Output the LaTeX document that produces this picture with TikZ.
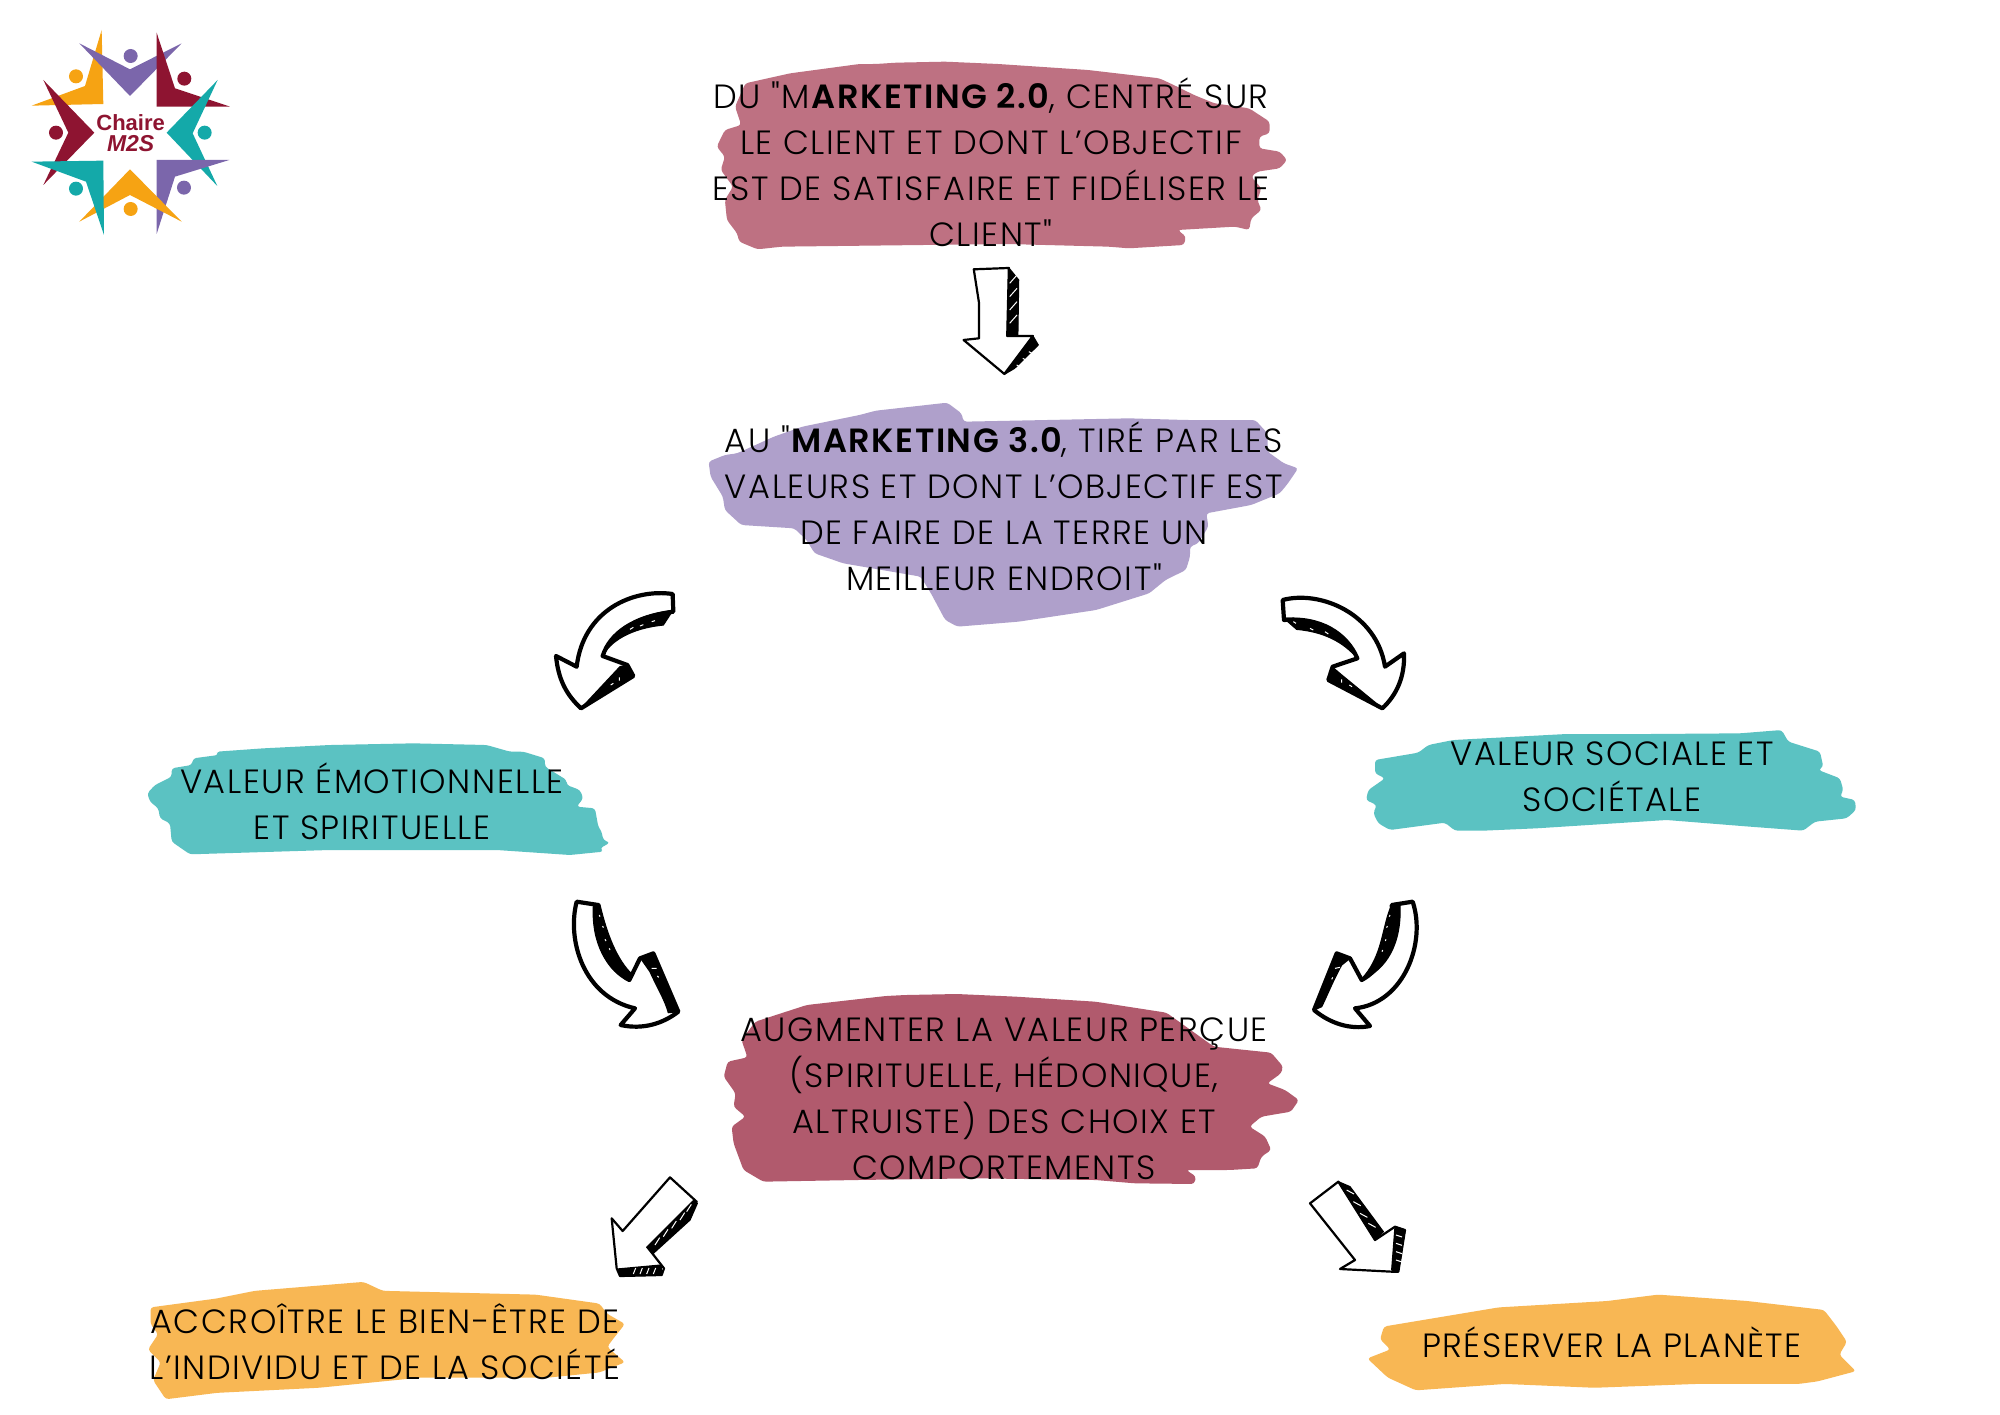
\documentclass[tikz,border=0pt]{standalone}
\usepackage{fontspec}
\setmainfont{Poppins Light}[Ligatures=TeXOff,LetterSpace=4.5,BoldFont={Poppins SemiBold}]
\newfontfamily\logofont{Liberation Sans}
\definecolor{cPink}{HTML}{BE7182}
\definecolor{cLilac}{HTML}{AFA0CB}
\definecolor{cTeal}{HTML}{5BC2C2}
\definecolor{cRose}{HTML}{B15A6D}
\definecolor{cSand}{HTML}{F8B754}
\definecolor{lOrange}{HTML}{F6A313}
\definecolor{lPurple}{HTML}{7B66AB}
\definecolor{lCrimson}{HTML}{8E1431}
\definecolor{lTeal}{HTML}{14A9A9}
\tikzset{
  label/.style={inner sep=0pt,align=center,text=black,font=\fontsize{16.8}{23}\selectfont},
  logotext/.style={inner sep=0pt,text=lCrimson},
  brush/.style={rounded corners=1.5pt},
  thick arrow/.style={draw=black,fill=white,line width=2.1pt,line join=round,line cap=round},
  thin arrow/.style={draw=black,fill=white,line width=1.1pt,line join=round,line cap=round},
  shade/.style={fill=black,draw=black,line width=.6pt,line join=round},
  hatch/.style={draw=white,line width=.5pt},
}
\begin{document}
\begin{tikzpicture}[x=0.5pt,y=-0.5pt]
\useasboundingbox (0,0) rectangle (2000,1414);
\fill[white] (0,0) rectangle (2000,1414);
% brush strokes
\begin{scope}[shift={(680,40)},xscale=0.408,yscale=0.3333]
\fill[cPink,brush] (135,200)--(160,130)--(270,100)--(440,72)--(480,72)--(530,68)--(650,65)--(780,72)--(1000,90)--(1175,115)--(1210,135)--(1260,165)--(1310,190)--(1395,205)--(1420,225)--(1445,245)--(1445,280)--(1420,290)--(1420,325)--(1470,335)--(1488,360)--(1470,385)--(1415,395)--(1400,410)--(1425,445)--(1415,480)--(1425,510)--(1400,535)--(1395,570)--(1360,560)--(1220,570)--(1240,590)--(1235,615)--(1100,625)--(1050,620)--(800,612)--(600,615)--(250,620)--(190,628)--(145,605)--(140,580)--(115,540)--(110,480)--(130,440)--(100,390)--(110,350)--(90,320)--(110,270)--(150,255)--cycle;
\end{scope}
\begin{scope}[shift={(680,390)},xscale=0.408,yscale=0.3333]
\fill[cLilac,brush] (70,215)--(110,195)--(140,190)--(230,140)--(300,110)--(440,75)--(480,62)--(655,38)--(690,70)--(695,95)--(900,90)--(1100,85)--(1240,90)--(1410,90)--(1440,130)--(1440,185)--(1480,220)--(1515,235)--(1490,280)--(1470,310)--(1400,345)--(1290,370)--(1295,410)--(1270,460)--(1250,470)--(1250,500)--(1240,540)--(1190,570)--(1150,610)--(1020,660)--(830,695)--(680,710)--(650,690)--(615,610)--(590,560)--(400,520)--(330,490)--(310,450)--(280,415)--(150,405)--(110,360)--(105,320)--(75,260)--cycle;
\end{scope}
\begin{scope}[shift={(130,720)},scale=0.3333]
\fill[cTeal,brush] (52,220)--(75,195)--(125,170)--(125,145)--(185,135)--(190,115)--(265,105)--(260,95)--(400,85)--(600,75)--(850,70)--(1070,75)--(1140,95)--(1180,95)--(1245,115)--(1245,140)--(1310,180)--(1310,195)--(1350,210)--(1360,235)--(1340,260)--(1395,265)--(1405,320)--(1415,335)--(1420,360)--(1440,368)--(1410,385)--(1420,395)--(1320,405)--(1100,390)--(800,390)--(600,390)--(180,403)--(125,365)--(120,310)--(90,295)--(85,265)--(60,245)--cycle;
\end{scope}
\begin{scope}[shift={(1350,710)},scale=0.3333]
\fill[cTeal,brush] (75,150)--(205,128)--(235,105)--(310,90)--(650,72)--(900,72)--(1170,70)--(1295,60)--(1315,95)--(1410,125)--(1420,170)--(1405,180)--(1470,205)--(1480,240)--(1470,260)--(1515,270)--(1518,300)--(1490,325)--(1395,335)--(1360,362)--(1200,350)--(950,330)--(560,355)--(400,362)--(315,362)--(285,338)--(120,360)--(85,340)--(70,310)--(80,285)--(48,270)--(55,240)--(105,205)--(75,190)--cycle;
\end{scope}
\begin{scope}[shift={(700,980)},xscale=0.3953,yscale=0.3333]
\fill[cRose,brush] (105,180)--(140,125)--(270,75)--(470,48)--(520,45)--(650,42)--(800,50)--(1000,65)--(1180,98)--(1300,200)--(1445,218)--(1475,260)--(1470,280)--(1435,310)--(1480,330)--(1515,360)--(1495,395)--(1420,410)--(1390,440)--(1430,470)--(1445,510)--(1420,530)--(1410,565)--(1340,570)--(1230,570)--(1255,590)--(1250,612)--(1100,610)--(1000,600)--(700,595)--(400,600)--(160,605)--(110,570)--(85,490)--(80,440)--(115,410)--(85,380)--(90,340)--(60,290)--(70,245)--(120,232)--cycle;
\end{scope}
\begin{scope}[scale=1.2755]
\fill[cSand,brush] (118,1025)--(170,1018)--(200,1012)--(285,1005)--(300,1012)--(420,1015)--(470,1022)--(476,1030)--(490,1038)--(482,1048)--(476,1056)--(490,1068)--(470,1076)--(430,1080)--(330,1080)--(250,1088)--(170,1092)--(130,1097)--(120,1082)--(126,1068)--(116,1058)--(124,1046)--(118,1038)--cycle;
\fill[cSand,brush] (1085,1040)--(1115,1035)--(1175,1025)--(1260,1020)--(1300,1015)--(1370,1020)--(1430,1027)--(1440,1040)--(1448,1052)--(1442,1062)--(1455,1075)--(1425,1083)--(1410,1085)--(1330,1085)--(1250,1088)--(1180,1085)--(1110,1090)--(1088,1080)--(1072,1065)--(1090,1058)--(1082,1050)--cycle;
\end{scope}
% texts
\node[label] (top) at (991,162) {DU "M\textbf{ARKETING 2.0}, CENTRÉ SUR\\LE CLIENT ET DONT L’OBJECTIF\\EST DE SATISFAIRE ET FIDÉLISER LE\\CLIENT"};
\node[label] (mid) at (1004,506) {AU "\textbf{MARKETING 3.0}, TIRÉ PAR LES\\VALEURS ET DONT L’OBJECTIF EST\\DE FAIRE DE LA TERRE UN\\MEILLEUR ENDROIT"};
\node[label] (emo) at (372,801) {VALEUR ÉMOTIONNELLE\\ET SPIRITUELLE};
\node[label] (soc) at (1612,777) {VALEUR SOCIALE ET\\SOCIÉTALE};
\node[label] (aug) at (1004,1099) {AUGMENTER LA VALEUR PERÇUE\\(SPIRITUELLE, HÉDONIQUE,\\ALTRUISTE) DES CHOIX ET\\COMPORTEMENTS};
\node[label] (ind) at (385,1342) {ACCROÎTRE LE BIEN-ÊTRE DE\\L’INDIVIDU ET DE LA SOCIÉTÉ};
\node[label] (pla) at (1612,1342) {PRÉSERVER LA PLANÈTE};
% down arrow
\begin{scope}[shift={(680,40)},xscale=0.408,yscale=0.3333]
\draw[thin arrow] (720,688)--(806,684)--(802,888)--(865,888)--(795,1002)--(695,900)--(733,895)--(733,790)--cycle;
\fill[shade] (806,684)--(830,720)--(828,885)--(802,885)--cycle;
\fill[shade] (865,888)--(878,915)--(820,985)--(795,1003)--cycle;
\foreach \a/\b in {808/730,808/770,808/810,808/850}{\draw[hatch] (\a,\b)--(\a+18,\b-25);}
\foreach \a/\b in {825/975,840/955,855/935}{\draw[hatch] (\a,\b)--(\a+12,\b+8);}
\end{scope}
% curved arrow, top left
\begin{scope}[shift={(520,570)},scale=0.3333]
\draw[thick arrow] (458,72) .. controls (340,55) and (190,120) .. (170,290) -- (108,258) .. controls (115,330) and (140,375) .. (183,415) -- (340,318) -- (322,285) -- (248,258) .. controls (270,190) and (340,140) .. (460,125) -- cycle;
\fill[shade] (458,122) .. controls (340,135) and (270,190) .. (248,258) .. controls (270,215) and (330,175) .. (430,165) -- cycle;
\fill[shade] (183,415) .. controls (215,380) and (280,350) .. (340,320) -- (322,285) -- (300,290) -- cycle;
\draw[hatch] (330,178)--(340,172) (360,168)--(370,164) (395,155)--(405,152) (272,345)--(280,340) (298,322)--(298,332);
\end{scope}
% curved arrow, top right
\begin{scope}[shift={(1260,570)},scale=0.3333]
\draw[thick arrow] (68,90) .. controls (180,60) and (350,130) .. (375,290) -- (432,250) .. controls (435,320) and (410,375) .. (367,415) -- (205,330) -- (218,290) -- (292,265) .. controls (260,190) and (180,140) .. (72,150) -- cycle;
\fill[shade] (72,145) .. controls (180,140) and (260,190) .. (292,265) .. controls (250,215) and (190,185) .. (110,178) -- cycle;
\fill[shade] (367,415) .. controls (320,380) and (260,350) .. (205,332) -- (218,292) -- (245,315) -- cycle;
\draw[hatch] (100,155)--(108,160) (150,175)--(160,180) (195,185)--(205,192) (245,328)--(245,338) (268,345)--(276,350);
\end{scope}
% curved arrow, lower left
\begin{scope}[shift={(550,890)},scale=0.3333]
\draw[thick arrow] (80,35) .. controls (50,150) and (100,320) .. (255,355) -- (212,405) .. controls (280,420) and (340,400) .. (385,365) -- (310,190) -- (270,205) -- (238,270) .. controls (180,240) and (130,170) .. (145,45) -- cycle;
\fill[shade] (130,50) .. controls (125,160) and (170,240) .. (238,272) -- (248,255) .. controls (200,210) and (170,130) .. (150,45) -- cycle;
\fill[shade] (385,365) -- (310,190) -- (272,205) -- (300,245) .. controls (320,290) and (345,330) .. (355,368) -- cycle;
\draw[hatch] (148,75)--(150,80) (158,108)--(160,113) (165,148)--(168,153) (178,175)--(180,180) (305,235)--(320,235) (322,258)--(326,262);
\end{scope}
% curved arrow, lower right
\begin{scope}[shift={(1290,890)},scale=0.3333]
\draw[thick arrow] (368,35) .. controls (410,160) and (340,340) .. (195,355) -- (240,408) .. controls (180,420) and (120,400) .. (72,360) -- (140,190) -- (180,205) -- (215,270) .. controls (270,240) and (320,170) .. (305,45) -- cycle;
\fill[shade] (305,45) .. controls (275,110) and (280,200) .. (212,270) .. controls (290,240) and (335,160) .. (330,45) -- cycle;
\fill[shade] (72,360) -- (140,190) -- (180,205) -- (155,225) .. controls (130,270) and (110,320) .. (95,350) -- cycle;
\draw[hatch] (300,75)--(298,80) (292,108)--(290,113) (288,148)--(286,153) (278,180)--(276,185) (135,235)--(150,232) (128,262)--(125,268);
\end{scope}
% straight arrow, lower left
\begin{scope}[shift={(600,1170)},scale=0.3333]
\draw[thin arrow] (210,22)--(290,95)--(145,235)--(192,295)--(185,315)--(60,318)--(50,295)--(35,145)--(68,183)--cycle;
\fill[shade] (280,92)--(292,100)--(270,150)--(160,250)--(140,232)--cycle;
\fill[shade] (52,297)--(183,285)--(185,315)--(60,318)--cycle;
\foreach \a/\b in {165/225,190/200,215/175,240/150,260/125}{\draw[hatch] (\a,\b)--(\a+14,\b-22);}
\foreach \a in {100,120,140,160}{\draw[hatch] (\a,312)--(\a+7,294);}
\end{scope}
% straight arrow, lower right
\begin{scope}[shift={(1300,1170)},scale=0.3333]
\draw[thin arrow] (115,35)--(30,100)--(165,270)--(120,297)--(275,305)--(295,305)--(315,180)--(285,170)--(225,210)--cycle;
\fill[shade] (115,35)--(150,50)--(250,185)--(225,210)--cycle;
\fill[shade] (285,170)--(315,180)--(295,305)--(275,300)--cycle;
\foreach \a/\b in {140/60,160/95,180/130,205/160}{\draw[hatch] (\a,\b)--(\a+22,\b+12);}
\foreach \b in {195,220,245,270}{\draw[hatch] (288,\b)--(306,\b+6);}
\end{scope}
% logo
\begin{scope}[scale=0.3333]
\fill[lOrange] (305,90)--(310,312)--(95,317)--(255,258)--cycle;
\fill[lPurple] (238,130)--(390,208)--(545,130)--(390,288)--cycle;
\fill[lCrimson] (470,98)--(525,265)--(690,320)--(470,320)--cycle;
\fill[lCrimson] (130,240)--(283,398)--(130,555)--(205,398)--cycle;
\fill[lTeal] (653,240)--(578,400)--(652,558)--(500,398)--cycle;
\fill[lPurple] (688,480)--(525,530)--(470,702)--(470,480)--cycle;
\fill[lOrange] (238,665)--(390,508)--(545,665)--(390,585)--cycle;
\fill[lTeal] (95,485)--(310,482)--(312,705)--(258,545)--cycle;
\fill[lPurple] (392,168) circle (21);
\fill[lOrange] (228,229) circle (21);
\fill[lCrimson] (553,236) circle (21);
\fill[lCrimson] (168,398) circle (21);
\fill[lTeal] (614,398) circle (21);
\fill[lTeal] (228,566) circle (21);
\fill[lPurple] (552,563) circle (21);
\fill[lOrange] (392,627) circle (21);
\node[logotext,font=\logofont\fontsize{11}{11}\selectfont\bfseries] (chaire) at (392,368) {Chaire};
\node[logotext,font=\logofont\fontsize{11.5}{11.5}\selectfont\bfseries\itshape] (mts) at (392,432) {M2S};
\end{scope}
\end{tikzpicture}
\end{document}
